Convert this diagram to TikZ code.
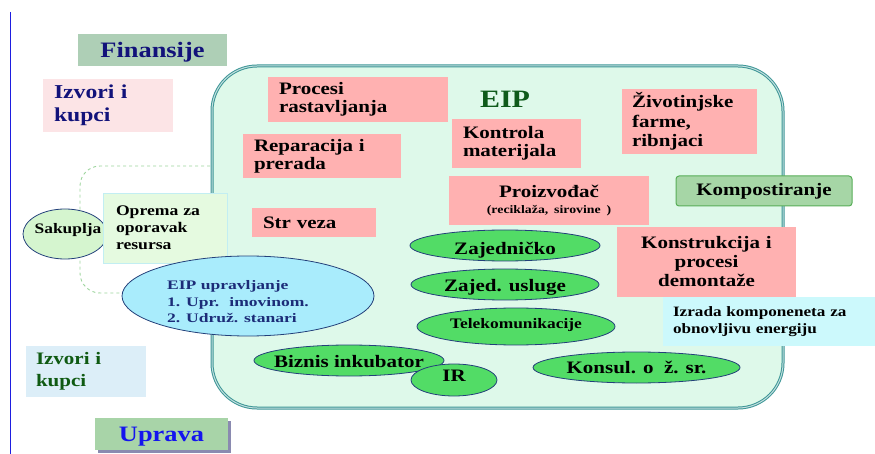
\documentclass[tikz,border=0pt]{standalone}
\usepackage{fontspec}
\setmainfont{Liberation Serif}[FakeStretch=1.2]
\newfontfamily\widefont{Liberation Serif}[FakeStretch=1.35]
\usepackage{tikz}
\usetikzlibrary{positioning,shapes.geometric,shadows}
\definecolor{rule}{HTML}{1E1EE0}
\definecolor{finfill}{HTML}{AECFB6}
\definecolor{fintext}{HTML}{12127A}
\definecolor{srcpink}{HTML}{FCE4E6}
\definecolor{srcblue}{HTML}{DCEEF8}
\definecolor{srcgreen}{HTML}{0F5A12}
\definecolor{uprfill}{HTML}{A8D4A8}
\definecolor{uprtext}{HTML}{1414EE}
\definecolor{uprshadow}{HTML}{8A8AB0}
\definecolor{mint}{HTML}{DEF9EA}
\definecolor{frameline}{HTML}{3C9696}
\definecolor{salmon}{HTML}{FFB1B1}
\definecolor{leaf}{HTML}{52DC66}
\definecolor{ovalline}{HTML}{23407A}
\definecolor{kompfill}{HTML}{A6D6A6}
\definecolor{kompline}{HTML}{58AE58}
\definecolor{aqua}{HTML}{CCF9FC}
\definecolor{ice}{HTML}{A9ECFC}
\definecolor{icetext}{HTML}{1C2C78}
\definecolor{pale}{HTML}{D5F5CF}
\definecolor{oprfill}{HTML}{E5FAE0}
\definecolor{oprline}{HTML}{C2EEF2}
\definecolor{dashline}{HTML}{9CD49C}
\definecolor{eiptext}{HTML}{0E5A1A}
\tikzset{
  titlebox/.style={inner sep=0pt,text depth=0pt,font=\fontsize{22}{24}\selectfont\bfseries},
  sourcebox/.style={inner xsep=11pt,inner ysep=0pt,align=left},
  pinkbox/.style={fill=salmon,inner xsep=11pt,inner ysep=0pt,align=left,font=\fontsize{17.5}{17.7}\selectfont\bfseries},
  greenoval/.style={ellipse,draw=ovalline,fill=leaf,line width=0.8pt,inner sep=0pt},
  ovaltext/.style={inner sep=0pt,font=\fontsize{17.5}{18}\selectfont\bfseries},
  park/.style={draw=frameline,double=frameline!30,double distance=1pt,line width=1pt,fill=mint,rounded corners=45pt,inner sep=0pt},
  bracket/.style={draw=dashline,dashed,line width=0.9pt,rounded corners=20pt,inner sep=0pt}
}
\begin{document}
\begin{tikzpicture}[x=1pt,y=-1pt]
  \useasboundingbox (0,0) rectangle (875,454);
  \coordinate (rule top) at (10,12);
  \coordinate (rule bottom) at (10,454);
  \draw[rule,line width=1pt] (rule top) -- (rule bottom);

  % left column
  \node[titlebox,fill=finfill,text=fintext,minimum width=149pt,minimum height=32pt] (finansije) at (152.5,50) {Finansije};
  \node[sourcebox,fill=srcpink,text=fintext,text width=108pt,minimum height=53pt,font=\fontsize{19.7}{23}\selectfont\bfseries] (izvori top) at (108,105.5) {Izvori i\\kupci};
  \node[sourcebox,fill=srcblue,text=srcgreen,inner xsep=10pt,text width=100pt,minimum height=51pt,font=\fontsize{17.5}{21.7}\selectfont\bfseries] (izvori bottom) at (86,371.5) {Izvori i\\kupci};
  \node[titlebox,fill=uprfill,text=uprtext,minimum width=133pt,minimum height=32pt,
        drop shadow={shadow xshift=3pt,shadow yshift=-3pt,fill=uprshadow,opacity=1}] (uprava) at (161.5,434) {Uprava};

  % collection bracket and the park frame
  \node[bracket,minimum width=180pt,minimum height=127pt] (sakupljanje) at (170,229.5) {};
  \node[park,minimum width=571pt,minimum height=342pt] (eip) at (497.5,237) {};
  \node[inner sep=0pt,text=eiptext,font=\fontsize{25}{26}\selectfont\bfseries] (eip title) at (505,99) {EIP};

  \node[ellipse,draw=ovalline,fill=pale,line width=0.8pt,inner sep=0pt,minimum width=84pt,minimum height=50pt,
        label={[ovaltext,xshift=3pt,yshift=4pt,font=\fontsize{14.5}{15}\selectfont\bfseries]center:Sakuplja}] (sakuplja) at (65,234) {};
  \node[sourcebox,fill=oprfill,draw=oprline,inner xsep=13pt,text width=98pt,minimum height=70pt,font=\fontsize{14.7}{17}\selectfont\bfseries] (oprema) at (165,228) {Oprema za\\oporavak\\resursa};
  \node[ellipse,draw=ovalline,fill=ice,line width=0.8pt,inner sep=0pt,minimum width=252pt,minimum height=80pt,
        label={[inner sep=0pt,align=left,text=icetext,xshift=-10pt,yshift=-6pt,font=\widefont\fontsize{13}{16.5}\selectfont\bfseries]center:EIP upravljanje\\1. Upr.~ imovinom.\\2. Udruž. stanari}] (upravljanje) at (248,296) {};

  % activities inside the park
  \node[pinkbox,text width=158pt,minimum height=45pt] (procesi) at (358,99.5) {Procesi\\rastavljanja};
  \node[pinkbox,text width=136pt,minimum height=44pt] (reparacija) at (322,156) {Reparacija i\\prerada};
  \node[pinkbox,text width=107pt,minimum height=49pt] (kontrola) at (516.5,143.5) {Kontrola\\materijala};
  \node[pinkbox,align=center,text width=178pt,minimum height=49pt] (proizvodjac) at (549,200.5) {Proizvođač\\[-2pt]{\fontsize{11.5}{12}\selectfont (reciklaža, sirovine )}};
  \node[pinkbox,text width=102pt,minimum height=29pt] (strveza) at (314,222.5) {Str veza};
  \node[pinkbox,inner xsep=10pt,text width=115pt,minimum height=65pt,font=\fontsize{17.5}{19.6}\selectfont\bfseries] (zivotinjske) at (689.5,121.5) {Životinjske\\farme,\\ribnjaci};
  \node[fill=kompfill,draw=kompline,line width=1pt,rounded corners=3pt,inner sep=0pt,minimum width=176pt,minimum height=30pt,font=\fontsize{17.5}{18}\selectfont\bfseries] (kompost) at (764,191) {Kompostiranje};
  \node[pinkbox,align=center,text width=157pt,minimum height=70pt,font=\fontsize{17.5}{19}\selectfont\bfseries] (konstrukcija) at (706.5,262) {Konstrukcija i\\procesi\\demontaže};
  \node[sourcebox,fill=aqua,inner xsep=10pt,text width=192pt,minimum height=49pt,font=\fontsize{14.3}{17}\selectfont\bfseries] (izrada) at (769,321.5) {Izrada komponeneta za\\obnovljivu energiju};

  % shared services
  \node[greenoval,minimum width=190pt,minimum height=31pt,label={[ovaltext,yshift=-5pt]center:Zajedničko}] (zajednicko) at (505,245.5) {};
  \node[greenoval,minimum width=188pt,minimum height=31pt,label={[ovaltext,yshift=-3pt]center:Zajed. usluge}] (usluge) at (505,284.5) {};
  \node[greenoval,minimum width=198pt,minimum height=37pt,label={[ovaltext,yshift=1pt,font=\fontsize{14.5}{15}\selectfont\bfseries]center:Telekomunikacije}] (telekom) at (516,326.5) {};
  \node[greenoval,minimum width=190pt,minimum height=31pt,label={[ovaltext,yshift=-1pt]center:Biznis inkubator}] (biznis) at (349,360.5) {};
  \node[greenoval,minimum width=86pt,minimum height=32pt,label={[ovaltext,yshift=4pt]center:IR}] (ir) at (454,380) {};
  \node[greenoval,minimum width=207pt,minimum height=31pt,label={[ovaltext]center:Konsul. o~ ž. sr.}] (konsul) at (636.5,367.5) {};
\end{tikzpicture}
\end{document}
